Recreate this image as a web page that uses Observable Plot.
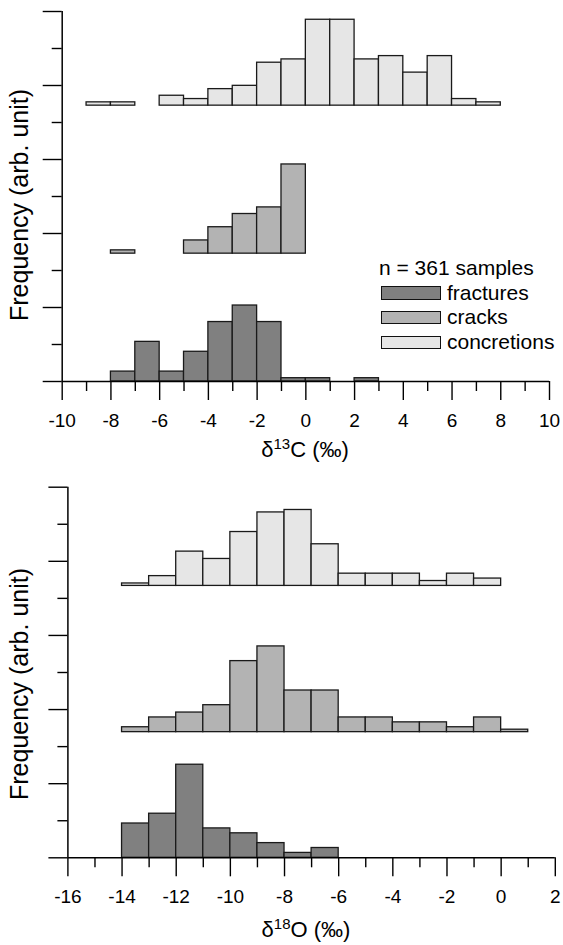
<!DOCTYPE html>
<html>
<head>
<meta charset="utf-8">
<script src="https://cdn.jsdelivr.net/npm/d3@7"></script>
<script src="https://cdn.jsdelivr.net/npm/@observablehq/plot@0.6"></script>
<style>
  body { margin: 0; background: #fff; font-family: "Liberation Sans", Arial, sans-serif; }
  #wrap { position: relative; width: 563px; height: 945px; overflow: hidden; background: #fff; }
  .panel { position: absolute; left: 0; }
  .legend { position: absolute; left: 379px; top: 256px; font-size: 21px; color: #000; line-height: 24.7px; }
  .legend .row { display: flex; align-items: center; height: 24.7px; }
  .legend .sw { width: 58px; height: 11.5px; border: 1.4px solid #111; margin: 0 6px 0 2px; }
</style>
</head>
<body>
<div id="wrap"></div>
<script>
// ---------- data ----------
const groups = ["fractures", "cracks", "concretions"];
const groupColors = ["#808080", "#b3b3b3", "#e6e6e6"];
const sampleCount = 361;

// δ13C histograms (bin start, counts)
const c13FracBins = [-8, -7, -6, -5, -4, -3, -2, -1, 0, 2];
const c13FracCounts = [3, 12, 3, 9, 18, 23, 18, 1, 1, 1];
const c13CrackBins = [-8, -5, -4, -3, -2, -1];
const c13CrackCounts = [1, 4, 8, 12, 14, 27];
const c13ConcBins = [-9, -8, -6, -5, -4, -3, -2, -1, 0, 1, 2, 3, 4, 5, 6, 7];
const c13ConcCounts = [1, 1, 3, 2, 5, 6, 13, 14, 26, 26, 14, 15, 10, 15, 2, 1];
const c13Offsets = [0, 38.7, 83.5];      // vertical stacking offsets (arb. unit)
const c13YStep = 11.2;                    // frequency tick spacing
const c13XTicks = [-10, -8, -6, -4, -2, 0, 2, 4, 6, 8, 10];

// δ18O histograms (bin start, counts)
const o18FracBins = [-14, -13, -12, -11, -10, -9, -8, -7];
const o18FracCounts = [14, 18, 38, 12, 10, 6, 2, 4];
const o18CrackBins = [-14, -13, -12, -11, -10, -9, -8, -7, -6, -5, -4, -3, -2, -1, 0];
const o18CrackCounts = [2, 6, 8, 11, 29, 35, 17, 17, 6, 6, 4, 4, 2, 6, 1];
const o18ConcBins = [-14, -13, -12, -11, -10, -9, -8, -7, -6, -5, -4, -3, -2, -1];
const o18ConcCounts = [1, 4, 14, 11, 22, 30, 31, 17, 5, 5, 5, 2, 5, 3];
const o18Offsets = [0, 51.3, 111.0];
const o18YStep = 15.13;
const o18XTicks = [-16, -14, -12, -10, -8, -6, -4, -2, 0, 2];

// ---------- helpers ----------
function buildRows(binsList, countsList, offsets) {
  const rows = [];
  binsList.forEach((bins, g) => {
    bins.forEach((b, i) => rows.push({
      group: groups[g], x1: b, x2: b + 1,
      y1: offsets[g], y2: offsets[g] + countsList[g][i]
    }));
  });
  return rows;
}

function panel(cfg) {
  const xMajor = cfg.xTicks;
  const xMinor = d3.range(xMajor[0], xMajor[xMajor.length - 1] + 1, 1).filter(v => !xMajor.includes(v));
  const yAll = d3.range(0, 11).map(i => i * cfg.yStep);
  const yMajor = yAll.filter((v, i) => i % 2 === 0);
  const yMinor = yAll.filter((v, i) => i % 2 === 1);
  const yTop = yAll[yAll.length - 1];
  const xDomain = [xMajor[0], xMajor[xMajor.length - 1]];
  const svg = Plot.plot({
    width: 563,
    height: cfg.height,
    marginLeft: cfg.marginLeft,
    marginRight: cfg.marginRight,
    marginTop: cfg.marginTop,
    marginBottom: cfg.marginBottom,
    style: { fontFamily: "'Liberation Sans', Arial, sans-serif", fontSize: "19px", color: "#000", background: "transparent", overflow: "visible" },
    x: { domain: xDomain },
    y: { domain: [0, yTop] },
    color: { domain: groups, range: groupColors },
    marks: [
      Plot.rect(cfg.rows, { x1: "x1", x2: "x2", y1: "y1", y2: "y2", fill: "group", stroke: "#1a1a1a", strokeWidth: 1.3 }),
      Plot.ruleY([0], { stroke: "#000", strokeWidth: 1.5 }),
      Plot.ruleX([xDomain[0]], { stroke: "#000", strokeWidth: 1.5 }),
      Plot.axisX({ ticks: xMajor, tickSize: 19, tickPadding: 13, tickFormat: d => String(d), label: null, fontSize: 19, stroke: "#000", strokeWidth: 1.4 }),
      Plot.axisX({ ticks: xMinor, tickSize: 10, tickFormat: () => "", label: null, stroke: "#000", strokeWidth: 1.4 }),
      Plot.axisY({ ticks: yMajor, tickSize: 19, tickFormat: () => "", label: null, stroke: "#000", strokeWidth: 1.4 }),
      Plot.axisY({ ticks: yMinor, tickSize: 10, tickFormat: () => "", label: null, stroke: "#000", strokeWidth: 1.4 })
    ]
  });
  const s = d3.select(svg);
  // y-axis title
  s.append("text")
    .attr("transform", `translate(${cfg.yTitleX},${cfg.yTitleY}) rotate(-90)`)
    .attr("text-anchor", "middle")
    .attr("font-size", 25)
    .attr("fill", "#000")
    .text("Frequency (arb. unit)");
  // x-axis title with superscript
  const t = s.append("text")
    .attr("x", cfg.xTitleX).attr("y", cfg.xTitleY)
    .attr("text-anchor", "middle")
    .attr("font-size", 22)
    .attr("fill", "#000");
  t.append("tspan").text("δ");
  t.append("tspan").attr("font-size", 15).attr("dy", -8).text(cfg.iso);
  t.append("tspan").attr("dy", 8).text(cfg.el + " (‰)");
  return svg;
}

const wrap = document.getElementById("wrap");

const topSvg = panel({
  rows: buildRows([c13FracBins, c13CrackBins, c13ConcBins], [c13FracCounts, c13CrackCounts, c13ConcCounts], c13Offsets),
  xTicks: c13XTicks, yStep: c13YStep,
  height: 470, marginLeft: 61.7, marginRight: 14, marginTop: 11, marginBottom: 89,
  yTitleX: 28, yTitleY: 205, xTitleX: 305, xTitleY: 457, iso: "13", el: "C"
});
topSvg.classList.add("panel");
topSvg.style.top = "0px";
wrap.appendChild(topSvg);

const botSvg = panel({
  rows: buildRows([o18FracBins, o18CrackBins, o18ConcBins], [o18FracCounts, o18CrackCounts, o18ConcCounts], o18Offsets),
  xTicks: o18XTicks, yStep: o18YStep,
  height: 475, marginLeft: 67.4, marginRight: 8.2, marginTop: 16.7, marginBottom: 87.7,
  yTitleX: 28, yTitleY: 214, xTitleX: 306, xTitleY: 467, iso: "18", el: "O"
});
botSvg.classList.add("panel");
botSvg.style.top = "470px";
wrap.appendChild(botSvg);

// legend
const legend = document.createElement("div");
legend.className = "legend";
const head = document.createElement("div");
head.className = "row";
head.textContent = `n = ${sampleCount} samples`;
legend.appendChild(head);
groups.forEach((g, i) => {
  const row = document.createElement("div");
  row.className = "row";
  const sw = document.createElement("span");
  sw.className = "sw";
  sw.style.background = groupColors[i];
  row.appendChild(sw);
  row.appendChild(document.createTextNode(g));
  legend.appendChild(row);
});
wrap.appendChild(legend);
</script>
</body>
</html>
